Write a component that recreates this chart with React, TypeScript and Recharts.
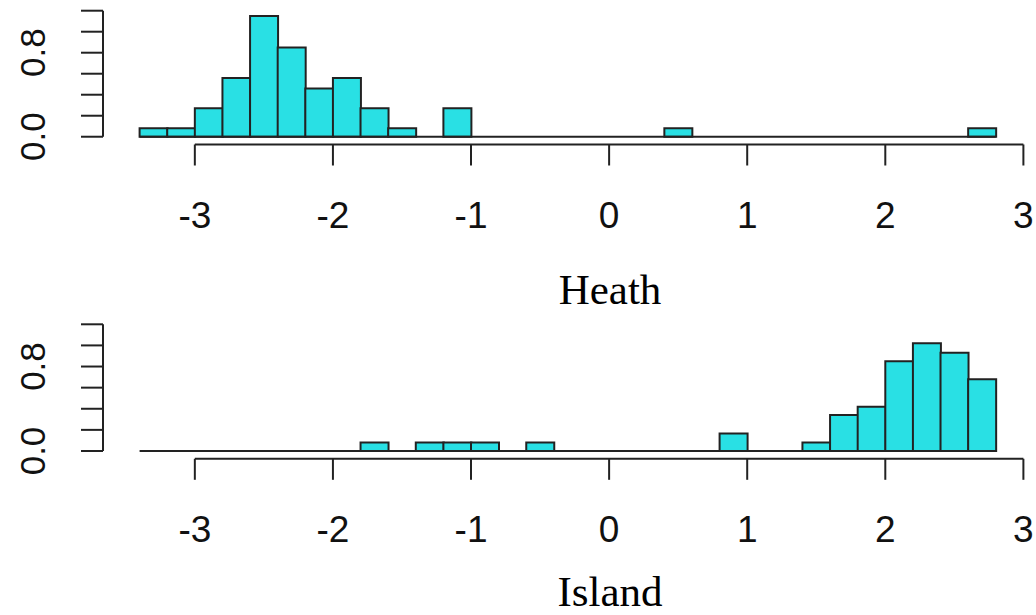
import { Bar, BarChart, ReferenceLine, XAxis, YAxis } from "recharts";

// histogram bins (left edges), width 0.2
const binLefts = [
  -3.4, -3.2, -3.0, -2.8, -2.6, -2.4, -2.2, -2.0, -1.8, -1.6, -1.4, -1.2, -1.0,
  -0.8, -0.6, -0.4, -0.2, 0.0, 0.2, 0.4, 0.6, 0.8, 1.0, 1.2, 1.4, 1.6, 1.8, 2.0,
  2.2, 2.4, 2.6,
];
const binWidth = 0.2;
const firstBreak = -3.4;
const lastBreak = 2.8;

const heathDensity = [
  0.08, 0.08, 0.27, 0.56, 1.15, 0.85, 0.46, 0.56, 0.27, 0.08, 0, 0.27, 0, 0, 0,
  0, 0, 0, 0, 0.08, 0, 0, 0, 0, 0, 0, 0, 0, 0, 0, 0.08,
];
const islandDensity = [
  0, 0, 0, 0, 0, 0, 0, 0, 0.08, 0, 0.08, 0.08, 0.08, 0, 0.08, 0, 0, 0, 0, 0, 0,
  0.165, 0, 0, 0.08, 0.34, 0.42, 0.85, 1.02, 0.93, 0.68,
];

const xTicks = [-3, -2, -1, 0, 1, 2, 3];
const yTicks = [0, 0.2, 0.4, 0.6, 0.8, 1.0, 1.2];
const yLabelTicks = [0, 0.8];

const xDomain: [number, number] = [-3.665, 3.05];
const yDomain: [number, number] = [-0.074, 1.2];

const ink = "#222";
const fill = "#29e0e4";
const sans = "'Liberation Sans', Arial, sans-serif";
const serif = "'Liberation Serif', 'Times New Roman', serif";

function YTick(props: any) {
  const { y, payload } = props;
  if (!yLabelTicks.includes(payload.value)) return <g />;
  const lx = 45;
  return (
    <text
      x={lx}
      y={y}
      transform={`rotate(-90 ${lx} ${y})`}
      textAnchor="middle"
      fontSize={35}
      fontFamily={sans}
      fill="#111"
    >
      {Number(payload.value).toFixed(1)}
    </text>
  );
}

type HistProps = {
  values: number[];
  top: number;
  marginTop: number;
  marginBottom: number;
  axisHeight: number;
};

function Histogram({ values, top, marginTop, marginBottom, axisHeight }: HistProps) {
  const data = binLefts.map((left, i) => ({
    mid: left + binWidth / 2,
    density: values[i],
  }));

  return (
    <div style={{ position: "absolute", left: 0, top }}>
      <BarChart
        width={1036}
        height={250}
        data={data}
        margin={{ top: marginTop, right: 5.7, bottom: marginBottom, left: 0 }}
        barCategoryGap={0}
      >
        <XAxis
          type="number"
          dataKey="mid"
          domain={xDomain}
          ticks={xTicks}
          allowDataOverflow
          interval={0}
          axisLine={false}
          tickLine={{ stroke: ink, strokeWidth: 2 }}
          tickSize={21}
          tickMargin={36}
          height={axisHeight}
          tick={{ fill: "#111", fontSize: 37, fontFamily: sans }}
        />
        <YAxis
          type="number"
          domain={yDomain}
          ticks={yTicks}
          allowDataOverflow
          interval={0}
          width={103}
          axisLine={false}
          tickLine={{ stroke: ink, strokeWidth: 2 }}
          tickSize={22}
          tick={<YTick />}
        />
        <ReferenceLine
          segment={[
            { x: xTicks[0], y: yDomain[0] },
            { x: xTicks[xTicks.length - 1], y: yDomain[0] },
          ]}
          stroke={ink}
          strokeWidth={2}
          ifOverflow="visible"
        />
        <ReferenceLine
          segment={[
            { x: xDomain[0], y: yTicks[0] },
            { x: xDomain[0], y: yTicks[yTicks.length - 1] },
          ]}
          stroke={ink}
          strokeWidth={2}
          ifOverflow="visible"
        />
        <ReferenceLine
          segment={[
            { x: firstBreak, y: 0 },
            { x: lastBreak, y: 0 },
          ]}
          stroke={ink}
          strokeWidth={2}
          ifOverflow="visible"
        />
        <Bar
          dataKey="density"
          fill={fill}
          stroke={ink}
          strokeWidth={2}
          isAnimationActive={false}
        />
      </BarChart>
    </div>
  );
}

function Title({ text, top }: { text: string; top: number }) {
  return (
    <div
      style={{
        position: "absolute",
        left: 0,
        top,
        width: 1220,
        textAlign: "center",
        fontFamily: serif,
        fontSize: 43,
        lineHeight: 1,
        color: "#000",
      }}
    >
      {text}
    </div>
  );
}

export default function App() {
  return (
    <div
      style={{
        position: "absolute",
        left: 0,
        top: 0,
        width: 1036,
        height: 615,
        background: "#fff",
        overflow: "hidden",
      }}
    >
      <Histogram values={heathDensity} top={0} marginTop={10.7} marginBottom={5.5} axisHeight={100} />
      <Title text="Heath" top={268} />
      <Histogram values={islandDensity} top={300} marginTop={24.3} marginBottom={6.2} axisHeight={85} />
      <Title text="Island" top={570} />
    </div>
  );
}
